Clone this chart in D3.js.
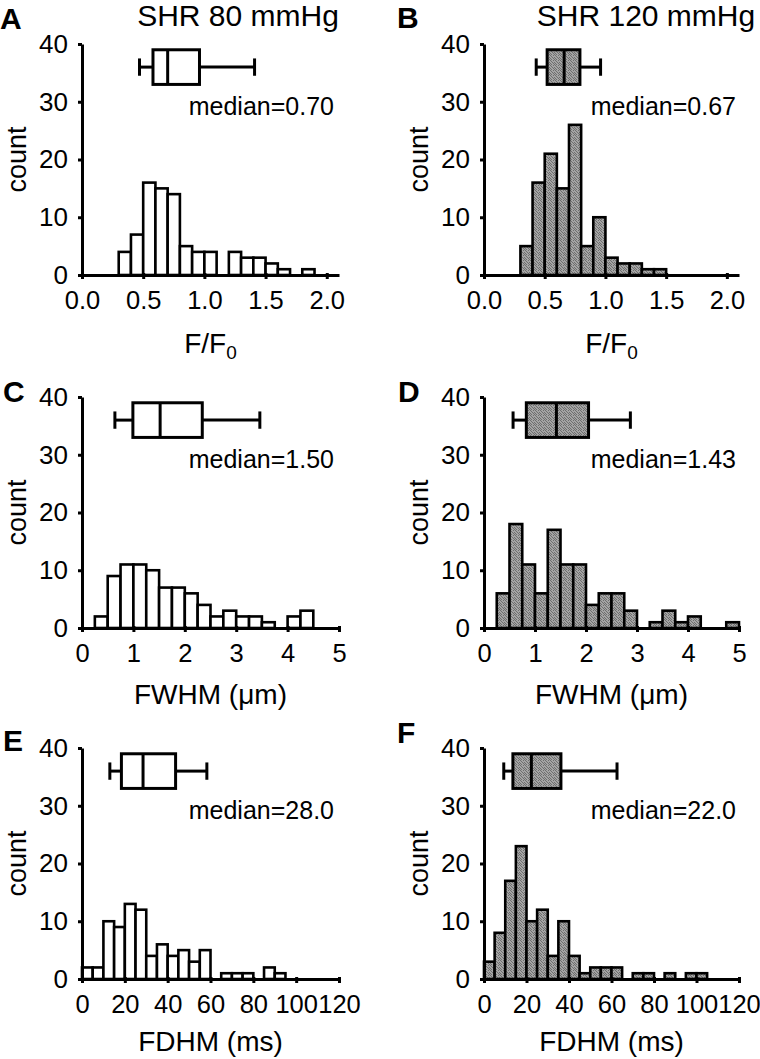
<!DOCTYPE html>
<html>
<head>
<meta charset="utf-8">
<script src="https://cdn.jsdelivr.net/npm/d3@7"></script>
<style>
  html, body { margin: 0; padding: 0; background: #fff; }
  svg text { font-family: "Liberation Sans", Arial, sans-serif; fill: #000; }
</style>
</head>
<body>
<svg id="chart" width="760" height="1059"></svg>
<script>
// ---------------- DATA ----------------
const titles = ["SHR 80 mmHg", "SHR 120 mmHg"];
const panelLetters = ["A", "B", "C", "D", "E", "F"];
const yTicks = [0, 10, 20, 30, 40];

// F/F0 histograms (bin width 0.1)
const binsFF0 = [0.3, 0.4, 0.5, 0.6, 0.7, 0.8, 0.9, 1.0, 1.1, 1.2, 1.3, 1.4, 1.5, 1.6, 1.7, 1.8];
const countsA = [4, 7, 16, 15, 14, 5, 4, 4, 0, 4, 3, 3, 2, 1, 0, 1];
const countsB = [5, 16, 21, 15, 26, 5, 10, 3, 2, 2, 1, 1, 0, 0, 0, 0];
const xTicksFF0 = [0, 0.5, 1.0, 1.5, 2.0];

// FWHM histograms (bin width 0.25)
const binsFWHM = [0.25, 0.5, 0.75, 1.0, 1.25, 1.5, 1.75, 2.0, 2.25, 2.5, 2.75, 3.0, 3.25, 3.5, 3.75, 4.0, 4.25, 4.5, 4.75];
const countsC = [2, 9, 11, 11, 10, 7, 7, 6, 4, 2, 3, 2, 2, 1, 0, 2, 3, 0, 0];
const countsD = [6, 18, 11, 6, 17, 11, 11, 4, 6, 6, 3, 0, 1, 3, 1, 2, 0, 0, 1];
const xTicksFWHM = [0, 1, 2, 3, 4, 5];

// FDHM histograms (bin width 5)
const binsFDHM = [0, 5, 10, 15, 20, 25, 30, 35, 40, 45, 50, 55, 60, 65, 70, 75, 80, 85, 90, 95, 100];
const countsE = [2, 2, 10, 9, 13, 12, 4, 6, 4, 5, 3, 5, 0, 1, 1, 1, 0, 2, 1, 0, 0];
const countsF = [3, 8, 17, 23, 10, 12, 4, 10, 4, 1, 2, 2, 2, 0, 1, 1, 0, 1, 0, 1, 1];
const xTicksFDHM = [0, 20, 40, 60, 80, 100, 120];

// box plots: [whisker low, Q1, median, Q3, whisker high]
const boxA = [0.47, 0.58, 0.70, 0.96, 1.41];
const boxB = [0.43, 0.52, 0.66, 0.79, 0.96];
const boxC = [0.64, 0.99, 1.52, 2.34, 3.46];
const boxD = [0.57, 0.83, 1.42, 2.05, 2.87];
const boxE = [13, 18.4, 28.5, 43.7, 58.3];
const boxF = [9.3, 13.6, 22.3, 36.2, 62.6];

const medianLabels = ["median=0.70", "median=0.67", "median=1.50", "median=1.43", "median=28.0", "median=22.0"];

// ---------------- LAYOUT ----------------
const svg = d3.select("#chart");
const defs = svg.append("defs");
const pat = defs.append("pattern").attr("id", "stipple")
  .attr("patternUnits", "userSpaceOnUse").attr("width", 5).attr("height", 5);
pat.append("rect").attr("width", 5).attr("height", 5).attr("fill", "#a4a4a4");
[[0, 0], [3, 0], [1, 1], [4, 2], [2, 2], [0, 3], [3, 3], [1, 4], [4, 4]].forEach(p => pat.append("rect").attr("x", p[0]).attr("y", p[1])
  .attr("width", 1).attr("height", 1).attr("fill", "#6e6e6e"));

const colX = [82, 484];
const colW = [257, 255];
const rowTop = [44, 397, 748];
const plotH = 231;
const xLabelOff = [78, 76, 72];
const letterPos = [[0, 29], [397, 28], [3, 402], [398, 402], [3, 751], [397, 743]];

const panels = [
  { bins: binsFF0, bw: 0.1, counts: countsA, box: boxA, dom: [0, 2.1], ticks: xTicksFF0, fmt: d3.format(".1f"), label: "ff0", fill: "#fff" },
  { bins: binsFF0, bw: 0.1, counts: countsB, box: boxB, dom: [0, 2.1], ticks: xTicksFF0, fmt: d3.format(".1f"), label: "ff0", fill: "url(#stipple)" },
  { bins: binsFWHM, bw: 0.25, counts: countsC, box: boxC, dom: [0, 5], ticks: xTicksFWHM, fmt: d3.format("d"), label: "FWHM (\u03bcm)", fill: "#fff" },
  { bins: binsFWHM, bw: 0.25, counts: countsD, box: boxD, dom: [0, 5], ticks: xTicksFWHM, fmt: d3.format("d"), label: "FWHM (\u03bcm)", fill: "url(#stipple)" },
  { bins: binsFDHM, bw: 5, counts: countsE, box: boxE, dom: [0, 120], ticks: xTicksFDHM, fmt: d3.format("d"), label: "FDHM (ms)", fill: "#fff" },
  { bins: binsFDHM, bw: 5, counts: countsF, box: boxF, dom: [0, 120], ticks: xTicksFDHM, fmt: d3.format("d"), label: "FDHM (ms)", fill: "url(#stipple)" }
];

panels.forEach((p, i) => {
  const col = i % 2, row = Math.floor(i / 2);
  const x0 = colX[col], plotW = colW[col], top = rowTop[row], bottom = top + plotH;
  const x = d3.scaleLinear().domain(p.dom).range([x0, x0 + plotW]);
  const y = d3.scaleLinear().domain([0, 40]).range([bottom, top]);
  const g = svg.append("g");

  // bars
  const data = p.bins.map((b, k) => ({ lo: b, hi: b + p.bw, c: p.counts[k] })).filter(d => d.c > 0);
  g.selectAll("rect.bar").data(data).enter().append("rect")
    .attr("x", d => x(d.lo)).attr("width", d => x(d.hi) - x(d.lo))
    .attr("y", d => y(d.c)).attr("height", d => y(0) - y(d.c))
    .attr("fill", p.fill).attr("stroke", "#000").attr("stroke-width", 2.6);

  // y axis
  const yAxis = d3.axisLeft(y).tickValues(yTicks).tickSize(4).tickSizeOuter(0).tickPadding(10);
  const ya = g.append("g").attr("transform", `translate(${x0},0)`).call(yAxis);
  ya.select(".domain").attr("stroke-width", 3).attr("stroke", "#000");
  ya.selectAll(".tick line").attr("stroke-width", 3);
  ya.selectAll(".tick text").attr("font-size", 26).attr("font-family", "Liberation Sans, Arial, sans-serif");

  // x axis
  const xAxis = d3.axisBottom(x).tickValues(p.ticks).tickFormat(p.fmt).tickSize(4).tickSizeOuter(0).tickPadding(12);
  const xa = g.append("g").attr("transform", `translate(0,${bottom})`).call(xAxis);
  xa.select(".domain").attr("stroke-width", 3).attr("stroke", "#000");
  xa.selectAll(".tick line").attr("stroke-width", 3).attr("y1", -2);
  xa.selectAll(".tick text").attr("font-size", 25.5).attr("font-family", "Liberation Sans, Arial, sans-serif");

  // box plot
  const [wl, q1, med, q3, wh] = p.box;
  const bg = g.append("g").attr("stroke", "#000").attr("stroke-width", 3);
  bg.append("line").attr("x1", x(wl)).attr("x2", x(q1)).attr("y1", y(36)).attr("y2", y(36));
  bg.append("line").attr("x1", x(q3)).attr("x2", x(wh)).attr("y1", y(36)).attr("y2", y(36));
  bg.append("line").attr("x1", x(wl)).attr("x2", x(wl)).attr("y1", y(34.5)).attr("y2", y(37.5));
  bg.append("line").attr("x1", x(wh)).attr("x2", x(wh)).attr("y1", y(34.5)).attr("y2", y(37.5));
  bg.append("rect").attr("x", x(q1)).attr("width", x(q3) - x(q1))
    .attr("y", y(39)).attr("height", y(33) - y(39)).attr("fill", p.fill);
  bg.append("line").attr("x1", x(med)).attr("x2", x(med)).attr("y1", y(39)).attr("y2", y(33));

  // median text
  g.append("text").attr("x", x0 + 252).attr("y", y(30) + 13)
    .attr("text-anchor", "end").attr("font-size", 25).text(medianLabels[i]);

  // y label
  g.append("text").attr("transform", `translate(${x0 - 56},${(top + bottom) / 2}) rotate(-90)`)
    .attr("text-anchor", "middle").attr("font-size", 27).text("count");

  // x label
  const xl = g.append("text").attr("x", x0 + plotW * 0.5).attr("y", bottom + xLabelOff[row])
    .attr("text-anchor", "middle").attr("font-size", 28);
  if (p.label === "ff0") {
    xl.append("tspan").text("F/F");
    xl.append("tspan").attr("font-size", 19).attr("dy", 6).text("0");
  } else {
    xl.text(p.label);
  }

  // panel letter
  svg.append("text").attr("x", letterPos[i][0]).attr("y", letterPos[i][1])
    .attr("font-size", 30).attr("font-weight", "bold").text(panelLetters[i]);
});

// column titles
svg.append("text").attr("x", 238).attr("y", 26).attr("text-anchor", "middle").attr("font-size", 30).text(titles[0]);
svg.append("text").attr("x", 646).attr("y", 26).attr("text-anchor", "middle").attr("font-size", 30).text(titles[1]);
</script>
</body>
</html>
